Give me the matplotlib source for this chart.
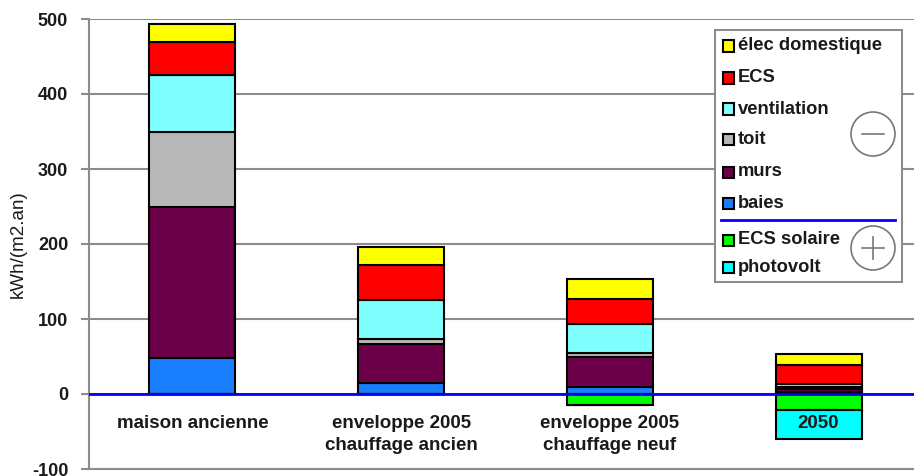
import matplotlib
matplotlib.use("Agg")
import matplotlib.pyplot as plt
from matplotlib.patches import Rectangle, Ellipse
from matplotlib.lines import Line2D

plt.rcParams['font.family'] = ['Liberation Sans', 'DejaVu Sans']

# ---- data ----
categories = ["maison ancienne", "enveloppe 2005\nchauffage ancien",
              "enveloppe 2005\nchauffage neuf", "2050"]
baies = [48, 15, 10, 3]
murs = [202, 52, 39, 4]
toit = [100, 7, 6, 3]
ventilation = [75, 51, 38, 3]
ecs = [45, 47, 34, 26]
elec = [24, 24, 27, 15]
ecs_solaire = [0, 0, -15, -21]
photovolt = [0, 0, 0, -39]
yticks = [-100, 0, 100, 200, 300, 400, 500]

pos_series = [("baies", baies, "#1a7fff"),
              ("murs", murs, "#6c0048"),
              ("toit", toit, "#b8b8b8"),
              ("ventilation", ventilation, "#80ffff"),
              ("ECS", ecs, "#ff0000"),
              ("élec domestique", elec, "#ffff00")]
neg_series = [("ECS solaire", ecs_solaire, "#00ff00"),
              ("photovolt", photovolt, "#00ffff")]

W, H = 914, 476
fig = plt.figure(figsize=(W / 100, H / 100), dpi=100)
ax = fig.add_axes([89 / W, 7 / H, (W - 89) / W, 450 / H])

x = list(range(len(categories)))
bw = 0.412
grey = "#8c8c8c"
txt = "#1a1a1a"

bottom = [0] * len(x)
for name, vals, col in pos_series:
    ax.bar(x, vals, bw, bottom=bottom, color=col, edgecolor="black",
           linewidth=1.5, zorder=3)
    bottom = [b + v for b, v in zip(bottom, vals)]
bottom = [0] * len(x)
for name, vals, col in neg_series:
    ax.bar(x, vals, bw, bottom=bottom, color=col, edgecolor="black",
           linewidth=1.5, zorder=3)
    bottom = [b + v for b, v in zip(bottom, vals)]

ax.axhline(0, color="#0000ff", linewidth=2, zorder=4)

ax.set_xlim(-0.495, 3.457)
ax.set_ylim(-100, 500)
ax.set_yticks(yticks)
ax.set_yticklabels([str(t) for t in yticks], fontsize=13, fontweight="bold",
                   color=txt)
ax.set_xticks([])
ax.tick_params(axis="y", length=6, width=1.5, color=grey, pad=9)
ax.yaxis.grid(True, color=grey, linewidth=1.5, zorder=0)
ax.set_axisbelow(True)
for s in ["top", "right"]:
    ax.spines[s].set_visible(False)
for s in ["left", "bottom"]:
    ax.spines[s].set_color(grey)
    ax.spines[s].set_linewidth(1.5)

ax.set_ylabel("kWh/(m2.an)", fontsize=13.5, color=txt)
ax.yaxis.set_label_coords(-0.075, 0.5)

# category labels
for xi, lab in zip(x, categories):
    for i, line in enumerate(lab.split("\n")):
        ax.text(xi, -40 - i * 29.3, line, ha="center", va="center",
                fontsize=13.5, fontweight="bold", color=txt, zorder=5)

# ---- legend (drawn in pixel coordinates) ----
def fx(px):
    return px / W

def fy(py):
    return 1 - py / H

fig.add_artist(Rectangle((fx(715), fy(282)), fx(902) - fx(715), fy(30) - fy(282),
                         transform=fig.transFigure, facecolor="white",
                         edgecolor=grey, linewidth=1.5, zorder=10))
legend_items = [(pos_series[5], 46), (pos_series[4], 78), (pos_series[3], 109),
                (pos_series[2], 139), (pos_series[1], 172), (pos_series[0], 203),
                (neg_series[0], 240), (neg_series[1], 267)]
for (name, vals, col), py in legend_items:
    s = 11
    fig.add_artist(Rectangle((fx(728 - s / 2), fy(py + s / 2)), s / W, s / H,
                             transform=fig.transFigure, facecolor=col,
                             edgecolor="black", linewidth=1.5, zorder=11))
    fig.text(fx(738), fy(py), name, ha="left", va="center", fontsize=13.2,
             fontweight="bold", color=txt, zorder=11)

fig.add_artist(Line2D([fx(721), fx(895)], [fy(220), fy(220)],
                      transform=fig.transFigure, color="#0000ff",
                      linewidth=2, zorder=11))
for cy, plus in [(134, False), (248, True)]:
    r = 22
    fig.add_artist(Ellipse((fx(873), fy(cy)), 2 * r / W, 2 * r / H,
                           transform=fig.transFigure, facecolor="none",
                           edgecolor="#777777", linewidth=1.2, zorder=12))
    fig.add_artist(Line2D([fx(862), fx(884)], [fy(cy), fy(cy)],
                          transform=fig.transFigure, color="#777777",
                          linewidth=1.2, zorder=12))
    if plus:
        fig.add_artist(Line2D([fx(873), fx(873)], [fy(cy - 11), fy(cy + 11)],
                              transform=fig.transFigure, color="#777777",
                              linewidth=1.2, zorder=12))

fig.savefig("out.png", dpi=100)
